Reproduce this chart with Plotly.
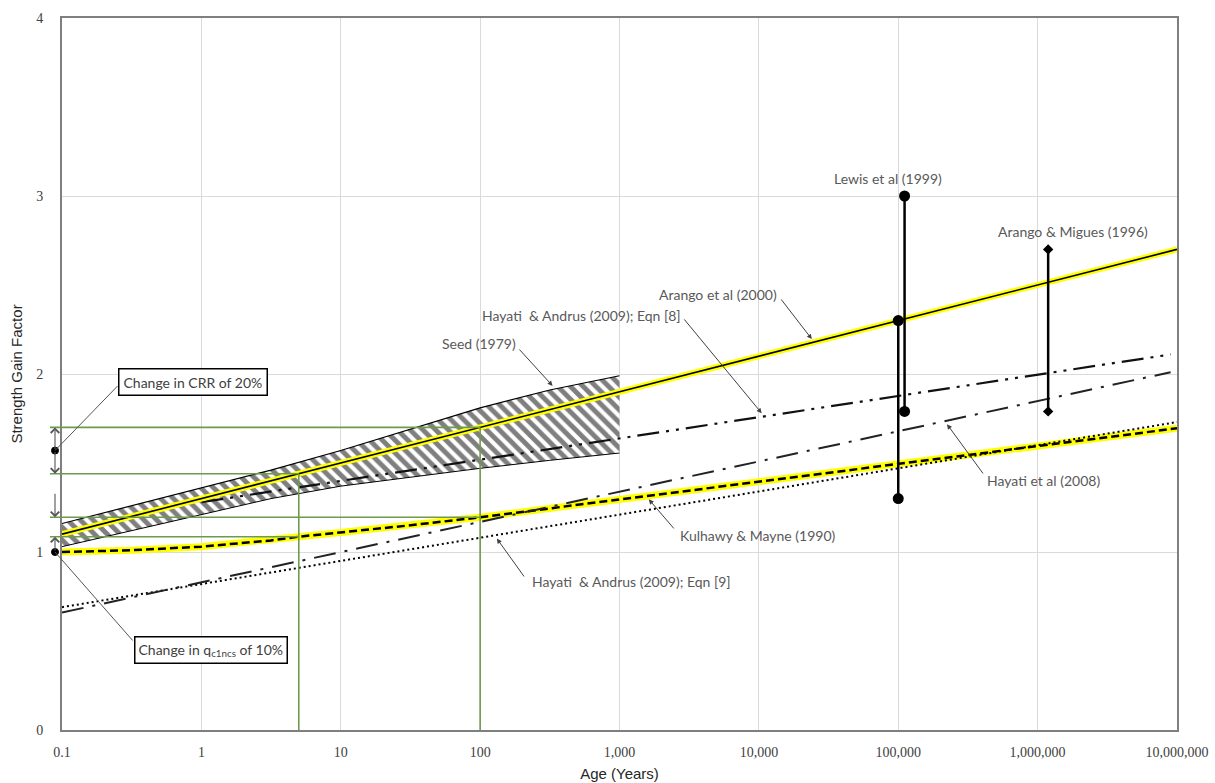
import numpy as np
import plotly.graph_objects as go

# ---------------- data ----------------
# Arango et al (2000)
arango_age = [0.1, 1e7]
arango_val = [1.10, 2.70]

# Seed (1979) band
seed_age = [0.1, 0.316, 1, 3.16, 10, 31.6, 100, 316, 1000]
seed_upper = [1.16, 1.26, 1.36, 1.46, 1.57, 1.69, 1.81, 1.91, 1.99]
seed_lower = [1.03, 1.12, 1.21, 1.30, 1.37, 1.42, 1.47, 1.515, 1.556]

# Hayati & Andrus (2009); Eqn [8]
ha8_age = [1, 9e6]
ha8_val = [1.28, 2.11]

# Hayati et al (2008)
h08_age = [0.1, 9e6]
h08_val = [0.66, 2.01]

# Hayati & Andrus (2009); Eqn [9]
ha9_age = [0.1, 1e7]
ha9_val = [0.69, 1.73]

# Kulhawy & Mayne (1990)
km_age = [0.1, 0.316, 1, 3.16, 5, 10, 31.6, 100, 1000, 1e4, 1e5, 1e6, 1e7]
km_val = [1.00, 1.01, 1.03, 1.065, 1.086, 1.11, 1.15, 1.195, 1.295, 1.395, 1.495, 1.595, 1.695]

# Lewis et al (1999) ranges
lewis_a_age = [1.11e5, 1.11e5]
lewis_a_val = [1.79, 3.00]
lewis_b_age = [1.0e5, 1.0e5]
lewis_b_val = [1.30, 2.30]

# Arango & Migues (1996) range
am_age = [1.19e6, 1.19e6]
am_val = [1.79, 2.70]

# ages used for the strength-change construction
ref_ages = [5, 100]

x_tickvals = [0.1, 1, 10, 100, 1000, 1e4, 1e5, 1e6, 1e7]
x_ticktext = ["0.1", "1", "10", "100", "1,000", "10,000", "100,000", "1,000,000", "10,000,000"]
y_tickvals = [0, 1, 2, 3, 4]

# ---------------- helpers ----------------
def at(age, ages, vals):
    return float(np.interp(np.log10(age), np.log10(ages), vals))

LG0, LG1 = -1, 7
PLOT_W = 1115
def paper_x(age):
    return (np.log10(age) - LG0) / (LG1 - LG0)

YELLOW = "#FFFF00"
GREEN = "#6E9A4C"
TXT = "#595959"
LFONT = dict(family="Lato, Open Sans, sans-serif", size=14, color=TXT)

fig = go.Figure()

# Seed band (hatched)
fig.add_trace(go.Scatter(x=seed_age, y=seed_lower, mode="lines",
                         line=dict(color="black", width=1), hoverinfo="skip"))
fig.add_trace(go.Scatter(x=seed_age, y=seed_upper, mode="lines", fill="tonexty",
                         fillcolor="rgba(0,0,0,0)",
                         fillpattern=dict(shape="\\", fgcolor="black", bgcolor="white",
                                          size=9, solidity=0.55),
                         line=dict(color="black", width=1.2), hoverinfo="skip"))

# Kulhawy & Mayne: yellow highlighted dashed
fig.add_trace(go.Scatter(x=km_age, y=km_val, mode="lines",
                         line=dict(color=YELLOW, width=7), hoverinfo="skip"))
fig.add_trace(go.Scatter(x=km_age, y=km_val, mode="lines",
                         line=dict(color="black", width=2.5, dash="8px,4px"), hoverinfo="skip"))

# Hayati & Andrus Eqn 9: dotted
fig.add_trace(go.Scatter(x=ha9_age, y=ha9_val, mode="lines",
                         line=dict(color="black", width=2, dash="2px,3px"), hoverinfo="skip"))

# Hayati et al 2008: long dash dot
fig.add_trace(go.Scatter(x=h08_age, y=h08_val, mode="lines",
                         line=dict(color="#222222", width=2, dash="22px,9px,3px,9px"), hoverinfo="skip"))

# Hayati & Andrus Eqn 8: long dash dot dot
fig.add_trace(go.Scatter(x=ha8_age, y=ha8_val, mode="lines",
                         line=dict(color="#111111", width=2.2, dash="22px,7px,3px,7px,3px,7px"), hoverinfo="skip"))

# Arango et al 2000: yellow highlighted solid
fig.add_trace(go.Scatter(x=arango_age, y=arango_val, mode="lines",
                         line=dict(color=YELLOW, width=6), hoverinfo="skip"))
fig.add_trace(go.Scatter(x=arango_age, y=arango_val, mode="lines",
                         line=dict(color="black", width=1.6), hoverinfo="skip"))

# range bars
for a, v in [(lewis_a_age, lewis_a_val), (lewis_b_age, lewis_b_val)]:
    fig.add_trace(go.Scatter(x=a, y=v, mode="lines+markers",
                             line=dict(color="black", width=2.5),
                             marker=dict(symbol="circle", size=11, color="black"),
                             hoverinfo="skip"))
fig.add_trace(go.Scatter(x=am_age, y=am_val, mode="lines+markers",
                         line=dict(color="black", width=2.5),
                         marker=dict(symbol="diamond", size=8, color="black"),
                         hoverinfo="skip"))

# strength-change construction (green)
ar5, ar100 = at(ref_ages[0], arango_age, arango_val), at(ref_ages[1], arango_age, arango_val)
km5, km100 = at(ref_ages[0], km_age, km_val), at(ref_ages[1], km_age, km_val)
shapes = []
x_left = -12 / PLOT_W
for yv, age in [(ar100, ref_ages[1]), (ar5, ref_ages[0]), (km100, ref_ages[1]), (km5, ref_ages[0])]:
    shapes.append(dict(type="line", xref="paper", yref="y", x0=x_left, x1=paper_x(age),
                       y0=yv, y1=yv, line=dict(color=GREEN, width=1.6), layer="above"))
for yv, age in [(ar5, ref_ages[0]), (ar100, ref_ages[1])]:
    shapes.append(dict(type="line", xref="paper", yref="y", x0=paper_x(age), x1=paper_x(age),
                       y0=0, y1=yv, line=dict(color=GREEN, width=1.6), layer="above"))

# markers beside the axis
side_x = -7 / PLOT_W
crr_mid = (ar5 + ar100) / 2
for yv in [crr_mid, km_val[0]]:
    shapes.append(dict(type="circle", xref="paper", yref="y", xsizemode="pixel", ysizemode="pixel",
                       xanchor=side_x, yanchor=yv, x0=-3.5, x1=3.5, y0=-3.5, y1=3.5,
                       fillcolor="black", line=dict(color="black", width=1), layer="above"))

annotations = []
def side_arrow(y_head, y_tail):
    annotations.append(dict(x=side_x, y=y_head, xref="paper", yref="y", axref="pixel", ax=0,
                            ayref="y", ay=y_tail, text="", showarrow=True, arrowhead=4,
                            arrowsize=1.5, arrowwidth=1.1, arrowcolor="#555555"))

# double arrow for CRR change, outside arrows for qc change
side_arrow(ar100, crr_mid)
side_arrow(ar5, crr_mid)
side_arrow(km100, km100 + 0.14)
side_arrow(km5, km_val[0])

# callout boxes and their leader lines
BOXFONT = dict(family="Lato, sans-serif", size=14, color="#404040")
annotations.append(dict(x=-0.06, y=1.955, xref="x", yref="y", text="Change in CRR of 20%",
                        showarrow=False, bgcolor="white", bordercolor="black", borderwidth=1.5,
                        borderpad=4, font=BOXFONT))
annotations.append(dict(x=0.066, y=0.449, xref="x", yref="y",
                        text="Change in q<sub>c1ncs</sub> of 10%",
                        showarrow=False, bgcolor="white", bordercolor="black", borderwidth=1.5,
                        borderpad=3, font=BOXFONT))
annotations.append(dict(x=side_x, y=crr_mid, xref="paper", yref="y", axref="pixel", ayref="pixel",
                        ax=64, ay=-66, text="", showarrow=True, arrowhead=0, arrowwidth=1,
                        arrowcolor="#555555"))
annotations.append(dict(x=side_x, y=km_val[0], xref="paper", yref="y", axref="pixel", ayref="pixel",
                        ax=79, ay=90, text="", showarrow=True, arrowhead=0, arrowwidth=1,
                        arrowcolor="#555555"))

# series labels
labels = [
    ("Lewis et al (1999)", 4.928, 3.101),
    ("Arango & Migues (1996)", 6.255, 2.798),
    ("Arango et al (2000)", 3.708, 2.444),
    ("Hayati  & Andrus (2009); Eqn [8]", 2.724, 2.326),
    ("Seed (1979)", 1.992, 2.169),
    ("Hayati et al (2008)", 6.04, 1.399),
    ("Kulhawy & Mayne (1990)", 3.995, 1.09),
    ("Hayati  & Andrus (2009); Eqn [9]", 3.083, 0.837),
]
for t, lx, ly in labels:
    annotations.append(dict(x=lx, y=ly, xref="x", yref="y", text=t.replace("  ", "&nbsp; "),
                            showarrow=False, font=LFONT))

# leader arrows: head on the series, tail beside the label
leaders = [
    (4.38, arango_age, arango_val, 4.152, 2.427),
    (4.02, ha8_age, ha8_val, 3.456, 2.315),
    (2.52, seed_age, seed_upper, 2.272, 2.146),
    (5.35, h08_age, h08_val, 5.616, 1.433),
    (3.21, km_age, km_val, 3.399, 1.124),
    (2.12, ha9_age, ha9_val, 2.323, 0.854),
]
for hx, ages, vals, tx, ty in leaders:
    hy = at(10 ** hx, ages, vals)
    annotations.append(dict(x=hx, y=hy + 0.02 * np.sign(ty - hy), ax=tx, ay=ty,
                            xref="x", yref="y", axref="x", ayref="y", text="", showarrow=True,
                            arrowhead=2, arrowsize=1.0, arrowwidth=1.0, arrowcolor="#404040"))

fig.update_layout(
    width=1215, height=783,
    margin=dict(l=62, r=38, t=18, b=53),
    plot_bgcolor="white", paper_bgcolor="white",
    showlegend=False,
    shapes=shapes,
    annotations=annotations,
    xaxis=dict(type="log", range=[LG0, LG1], tickvals=x_tickvals, ticktext=x_ticktext,
               showgrid=True, gridcolor="#DADADA", gridwidth=1,
               showline=True, linecolor="#7F7F7F", linewidth=2, mirror=True,
               ticks="", zeroline=False, ticklabelstandoff=8, automargin=False,
               tickfont=dict(family="Liberation Serif, DejaVu Serif, serif", size=14, color="#404040"),
               title=dict(text="Age (Years)", standoff=10,
                          font=dict(family="Liberation Sans, Arial, sans-serif", size=15, color="#262626"))),
    yaxis=dict(range=[0, 4], tickvals=y_tickvals,
               showgrid=True, gridcolor="#DADADA", gridwidth=1,
               showline=True, linecolor="#7F7F7F", linewidth=2, mirror=True,
               ticks="", zeroline=False, ticklabelstandoff=14, automargin=False,
               tickfont=dict(family="Liberation Serif, DejaVu Serif, serif", size=14, color="#404040"),
               title=dict(text="Strength Gain Factor", standoff=10,
                          font=dict(family="Liberation Sans, Arial, sans-serif", size=15, color="#262626"))),
)

fig.write_html("out.html")
